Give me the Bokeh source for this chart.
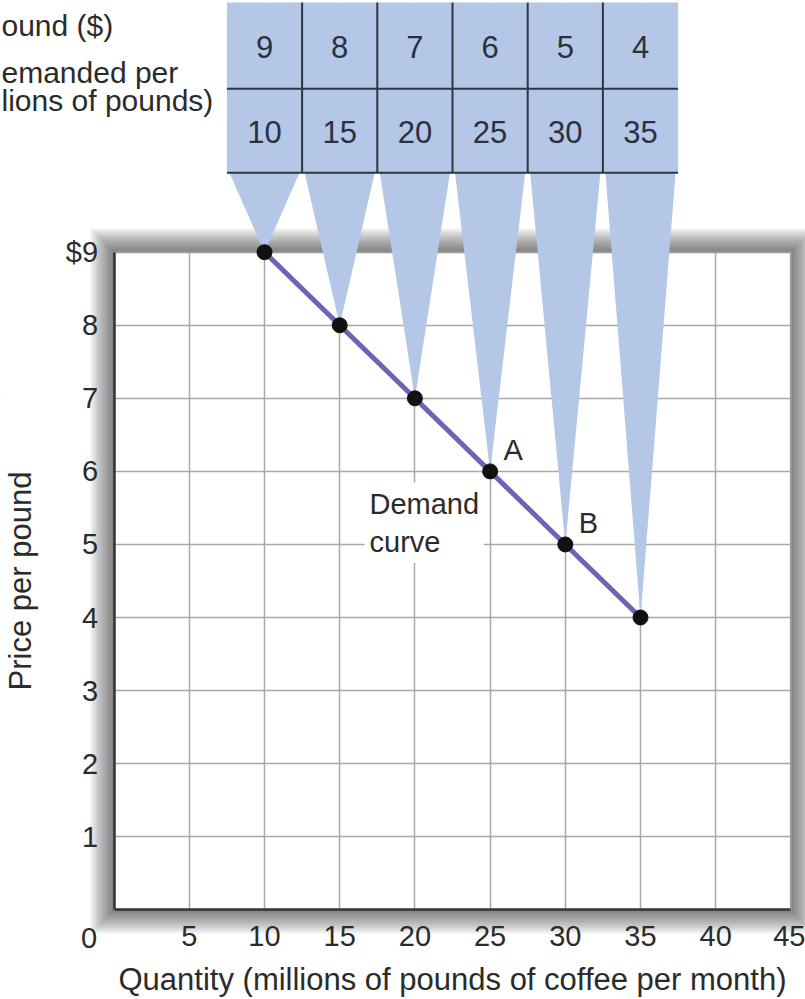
from bokeh.plotting import figure
from bokeh.models import Range1d, FixedTicker, Label
from bokeh.core.properties import value
from bokeh.embed import file_html
from bokeh.resources import INLINE

# ---------------- data ----------------
prices = [9, 8, 7, 6, 5, 4]
quantities = [10, 15, 20, 25, 30, 35]
x_ticks = [5, 10, 15, 20, 25, 30, 35, 40, 45]
y_ticks = [1, 2, 3, 4, 5, 6, 7, 8, 9]
x_grid_ticks = [5, 10, 15, 20, 25, 30, 35, 40]
y_grid_ticks = [1, 2, 3, 4, 5, 6, 7, 8]
x_max = 45
y_max = 9
row_titles = ["ound ($)", "emanded per", "lions of pounds)"]
marked_names = ["A", "B"]
marked_q = [25, 30]
marked_p = [6, 5]
x_title = "Quantity (millions of pounds of coffee per month)"
y_title = "Price per pound"
curve_name = "Demand\ncurve"

# ---------------- layout (pixel geometry of the reference) ----------------
W, H = 805, 999
X0, SX = 113.6, 15.04      # px of x=0, px per unit
Y0, SY = 909.3, 73.07      # px of y=0, px per unit

def dx(px):
    return (px - X0) / SX

def dy(py):
    return (Y0 - py) / SY

FONT = "Liberation Sans"
BLUE = "#b4c7e7"
PURPLE = "#6e64b4"
INK = "#2b2b2b"

xr = (dx(0), dx(W))
yr = (dy(H), dy(0))
p = figure(width=W, height=H, output_backend="svg", toolbar_location=None,
           x_range=Range1d(*xr), y_range=Range1d(*yr),
           min_border_left=0, min_border_right=0, min_border_top=0, min_border_bottom=0)
p.outline_line_color = None
p.background_fill_color = "white"
p.border_fill_color = "white"

# axes, drawn at the box edges
for ax in (p.xaxis, p.yaxis):
    ax.fixed_location = 0
    ax.axis_line_color = "#333333"
    ax.axis_line_width = 2.5
    ax.major_tick_out = 0
    ax.major_tick_in = 0
    ax.minor_tick_out = 0
    ax.minor_tick_in = 0
    ax.major_label_text_font = FONT
    ax.major_label_text_font_size = "29px"
    ax.major_label_text_color = INK
    ax.axis_label_text_font = FONT
    ax.axis_label_text_font_size = "31px"
    ax.axis_label_text_font_style = "normal"
    ax.axis_label_text_color = INK

p.xaxis.ticker = FixedTicker(ticks=x_ticks)
p.yaxis.ticker = FixedTicker(ticks=y_ticks)
p.yaxis.major_label_overrides = {9: "$9"}
p.xaxis.bounds = (0, x_max)
p.yaxis.bounds = (0, y_max)
p.xaxis.axis_label = x_title
p.yaxis.axis_label = y_title
p.xaxis.major_label_standoff = 16
p.xaxis.axis_label_standoff = 13
p.yaxis.major_label_standoff = 16
p.yaxis.axis_label_standoff = 25

# grids
p.xgrid.ticker = FixedTicker(ticks=x_grid_ticks)
p.ygrid.ticker = FixedTicker(ticks=y_grid_ticks)
for g in (p.xgrid, p.ygrid):
    g.grid_line_color = "#a8a8a8"
    g.grid_line_width = 1.5

box_x = [0, x_max, x_max, 0]
box_y = [0, 0, y_max, y_max]

# white cover everywhere outside the plot box
ox = [xr[0] - 1, xr[1] + 1, xr[1] + 1, xr[0] - 1]
oy = [yr[0] - 1, yr[0] - 1, yr[1] + 1, yr[1] + 1]
p.multi_polygons(xs=[[[ox, box_x]]], ys=[[[oy, box_y]]], fill_color="white", line_color=None)

# soft shadow around the plot box
N, STEP, A = 12, 2.0, 0.05
sxs, sys = [], []
for i in range(1, N + 1):
    ex, ey = STEP * i / SX, STEP * i / SY
    L, R, B, T = -ex, x_max + ex, -ey, y_max + ey
    sxs.append([[[L, R, R, L], box_x]])
    sys.append([[[B, B, T, T], box_y]])
p.multi_polygons(xs=sxs, ys=sys, fill_color="black", fill_alpha=A, line_color=None)

# top / right border of the plot box
p.line(x=[0, x_max, x_max], y=[y_max, y_max, 0], line_color="#9a9a9a", line_width=2)

# table geometry
half = 2.5
inset = 2.5 / SX
y_tab_top = dy(2)
y_tab_mid = dy(88.3)
y_tab_bot = dy(172.3)

# funnels from table columns to points
fx = [[q - half + inset, q + half - inset, q] for q in quantities]
fy = [[y_tab_bot, y_tab_bot, pr] for pr in prices]
p.patches(xs=fx, ys=fy, fill_color=BLUE, line_color=None)

# table cells
p.quad(left=[q - half for q in quantities], right=[q + half for q in quantities],
       bottom=[y_tab_bot] * len(quantities), top=[y_tab_top] * len(quantities),
       fill_color=BLUE, line_color=None)
x_left = quantities[0] - half
x_right = quantities[-1] + half
p.multi_line(xs=[[x_left, x_right], [x_left, x_right]] + [[q + half, q + half] for q in quantities[:-1]],
             ys=[[y_tab_mid, y_tab_mid], [y_tab_bot, y_tab_bot]] + [[y_tab_bot, y_tab_top]] * (len(quantities) - 1),
             line_color="#2f3540", line_width=2)
p.text(x=quantities, y=[dy(46)] * len(prices), text=[str(v) for v in prices],
       text_font=value(FONT), text_font_size=value("31px"), text_color="#2a3040",
       text_align="center", text_baseline="middle")
p.text(x=quantities, y=[dy(131)] * len(quantities), text=[str(v) for v in quantities],
       text_font=value(FONT), text_font_size=value("31px"), text_color="#2a3040",
       text_align="center", text_baseline="middle")

# demand curve and points
p.line(x=quantities, y=prices, line_color=PURPLE, line_width=5)
p.scatter(x=quantities, y=prices, size=15, fill_color="#111111", line_color="#111111")

# point labels
for name, q, pr in zip(marked_names, marked_q, marked_p):
    p.add_layout(Label(x=q, y=pr, text=name, x_offset=23, y_offset=21,
                       text_font=FONT, text_font_size="29px", text_color=INK,
                       text_align="center", text_baseline="middle"))

p.add_layout(Label(x=dx(364), y=dy(482), text=curve_name, text_font=FONT,
                   text_font_size="29px", text_color=INK, text_align="left",
                   text_baseline="top", background_fill_color="white", padding=5))

# origin label
p.add_layout(Label(x=0, y=0, text="0", x_offset=-25, y_offset=-28, text_font=FONT,
                   text_font_size="29px", text_color=INK, text_align="center",
                   text_baseline="middle"))

# row titles of the table (visible part at the left page edge)
for t, py in zip(row_titles, [25, 72, 100]):
    p.add_layout(Label(x=dx(1), y=dy(py), text=t, text_font=FONT, text_font_size="30px",
                       text_color=INK, text_align="left", text_baseline="middle"))

open("out.html", "w").write(file_html(p, INLINE))
